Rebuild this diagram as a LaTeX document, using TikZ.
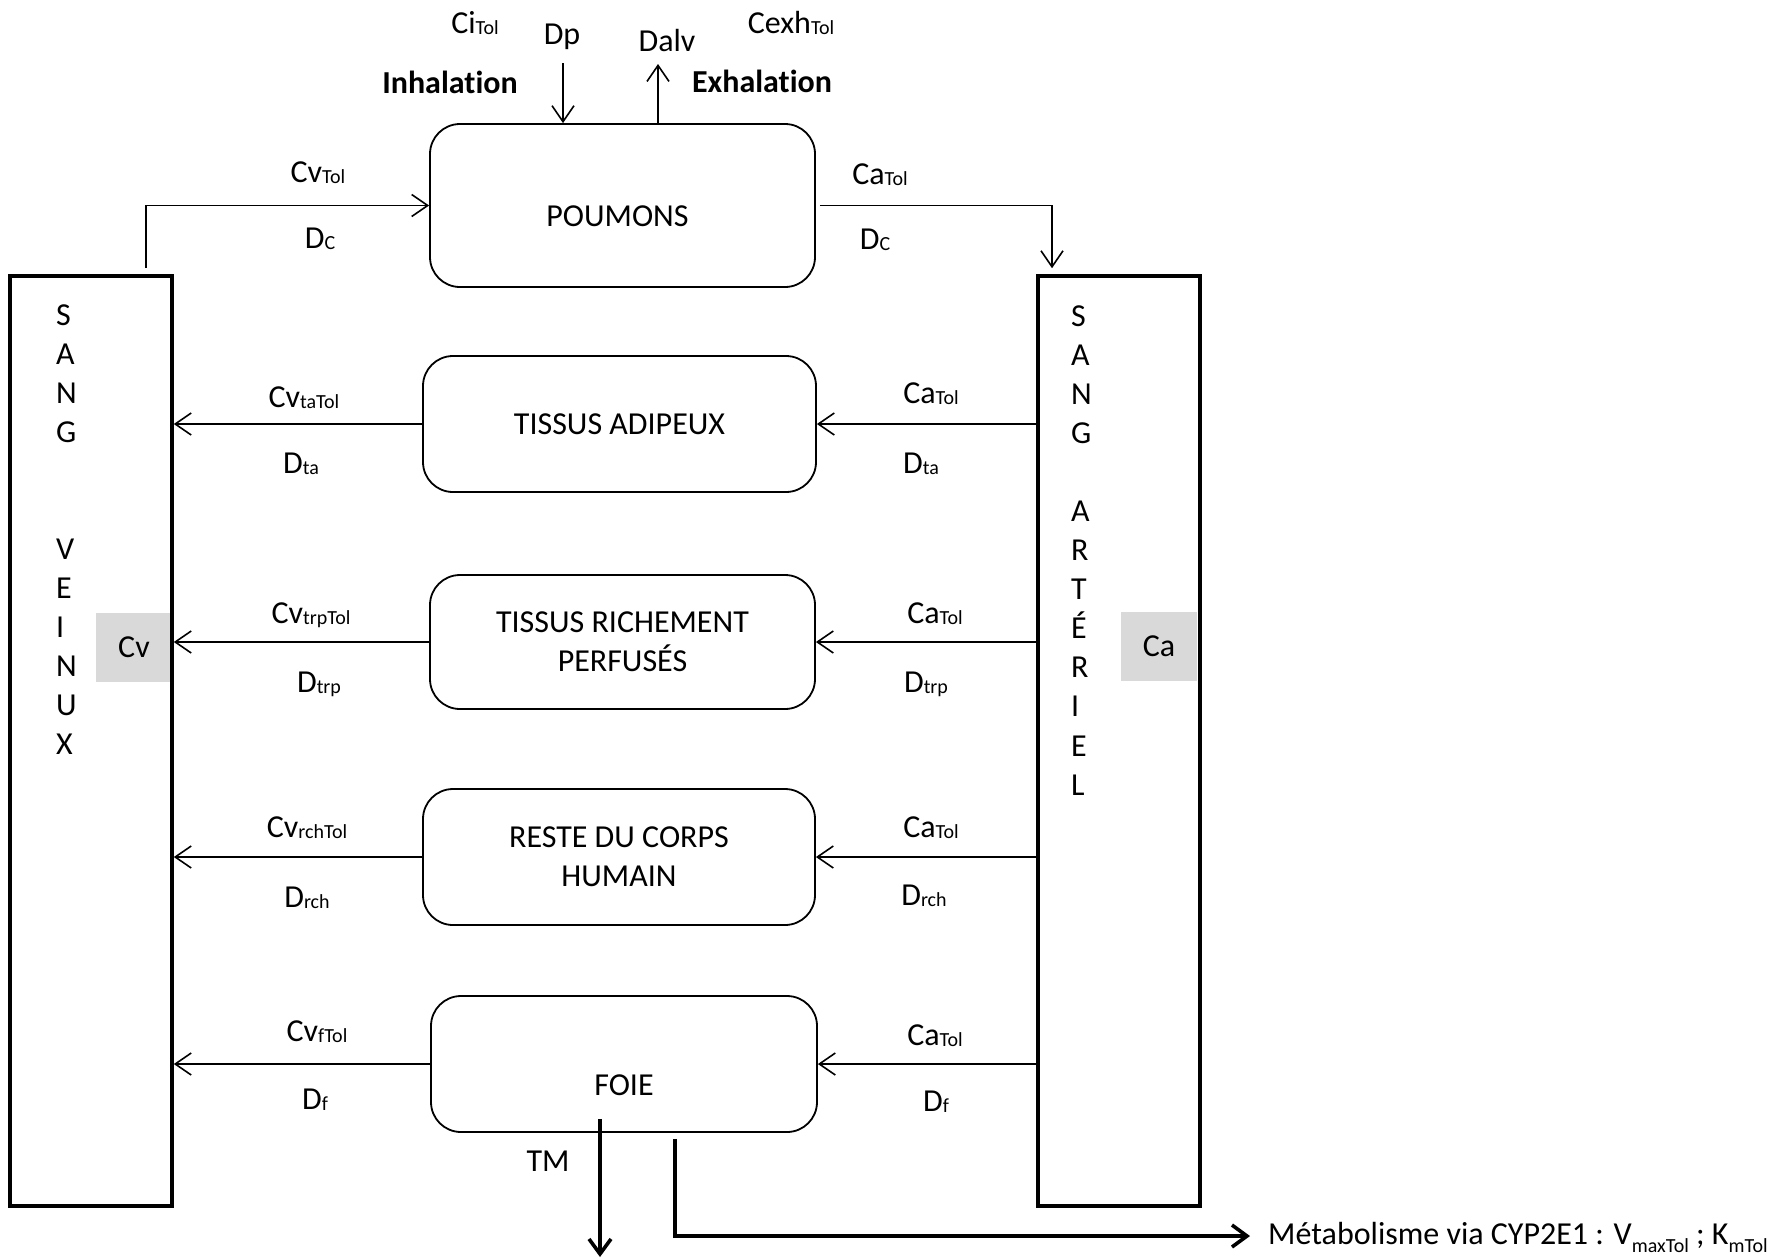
\documentclass[tikz,border=0pt]{standalone}
\usepackage{fontspec}
\setmainfont{Carlito}[Ligatures=NoCommon]
\usetikzlibrary{arrows.meta,calc}
\definecolor{lightgr}{HTML}{D9D9D9}
\newcommand{\sbt}[1]{\raisebox{-1pt}{\fontsize{20}{20}\selectfont #1}}
\newcommand{\sbl}[1]{\raisebox{-8pt}{\fontsize{20}{20}\selectfont #1}}
\begin{document}
\begin{tikzpicture}[x=1pt,y=-1pt,
  every node/.style={font=\fontsize{32}{39}\selectfont, inner sep=0pt},
  organ/.style={draw, line width=1.8pt, rounded corners=30pt, align=center},
  sang/.style={draw, line width=3.6pt, minimum width=162pt, minimum height=930pt},
  conc/.style={fill=lightgr, minimum width=76pt, minimum height=69pt},
  arr/.style={line width=1.6pt, -{Straight Barb[length=16pt,width=22pt]}},
  thickarr/.style={line width=3.6pt, -{Straight Barb[length=15pt,width=22pt]}},
  lbl/.style={anchor=base},
  letter/.style={anchor=base west},
  bold/.style={anchor=base, font=\fontsize{32}{39}\selectfont\bfseries}
]
\useasboundingbox (0,0) rectangle (1782,1259);

% concentration boxes
\node[conc] (cvbox) at (134,647.5) {Cv};
\node[conc] (cabox) at (1159,646.5) {Ca};

% blood compartments
\node[sang] (sv) at (91,741) {};
\node[sang] (sa) at (1119,741) {};
\foreach \l/\yy [count=\i] in {S/315,A/354,N/393,G/432,V/549,E/588,I/627,N/666,U/705,X/744}
  \node[letter] (svl\i) at (56,\yy+10) {\l};
\foreach \l/\yy [count=\i] in {S/316,A/355,N/394,G/433,A/511,R/550,T/589,É/628,R/667,I/706,E/746,L/785}
  \node[letter] (sal\i) at (1071,\yy+10) {\l};

% organs
\node[organ, minimum width=385pt, minimum height=163pt, text height=41pt, text depth=0pt] (poumons) at (622.5,205.5) {\hspace*{-10pt}POUMONS};
\node[organ, minimum width=393pt, minimum height=136pt] (ta) at (619.5,424) {TISSUS ADIPEUX};
\node[organ, minimum width=385pt, minimum height=134pt] (trp) at (622.5,642) {TISSUS RICHEMENT\\PERFUSÉS};
\node[organ, minimum width=392pt, minimum height=136pt] (rch) at (619,857) {RESTE DU CORPS\\HUMAIN};
\node[organ, minimum width=386pt, minimum height=136pt, text height=62pt, text depth=0pt] (foie) at (624,1064) {FOIE};

% lung connections
\draw[arr] ([xshift=55pt,yshift=6pt]sv.north) |- (poumons.west);
\draw[arr] ([xshift=4pt]poumons.east) -| ([xshift=-67pt,yshift=6pt]sa.north);
\coordinate (dpt) at (563,63);
\coordinate (dat) at (658,64);
\draw[arr] (dpt) -- (dpt |- poumons.north);
\draw[arr] (dat |- poumons.north) -- (dat);

% arterial -> organs, organs -> venous
\foreach \o in {ta,trp,rch,foie}{
  \draw[arr] (\o.east -| sa.west) -- (\o.east);
  \draw[arr] (\o.west) -- (\o.west -| sv.east);
}

% liver outputs
\coordinate (tmend) at (600,1257);
\coordinate (metab) at (1250,1236);
\draw[thickarr] ($(tmend |- foie.south)+(0,-14)$) -- (tmend);
\draw[thickarr] ($(foie.south)+(51,6)$) |- (metab);
\node[anchor=base west] (mtext) at (1268,1244) {Métabolisme via CYP2E1 : V\sbl{maxTol} ; K\sbl{mTol}};

% labels
\node[lbl] (ci) at (475,33) {Ci\sbt{Tol}};
\node[lbl] (dp) at (562,44) {Dp};
\node[lbl] (dalv) at (667,51) {Dalv};
\node[lbl] (cexh) at (791,33) {Cexh\sbt{Tol}};
\node[bold] (inh) at (450,93) {Inhalation};
\node[bold] (exh) at (762,92) {Exhalation};
\node[lbl] (tm) at (548,1171) {TM};

\node[lbl] (cvtol) at (318,182) {Cv\sbt{Tol}};
\node[lbl] (dc1) at (320,248) {D\sbt{C}};
\node[lbl] (catol0) at (880,184) {Ca\sbt{Tol}};
\node[lbl] (dc2) at (875,249) {D\sbt{C}};
\node[lbl] (cvta) at (304,407) {Cv\sbt{taTol}};
\node[lbl] (dta1) at (301,473) {D\sbt{ta}};
\node[lbl] (cata) at (931,403) {Ca\sbt{Tol}};
\node[lbl] (dta2) at (921,473) {D\sbt{ta}};
\node[lbl] (cvtrp) at (311,623) {Cv\sbt{trpTol}};
\node[lbl] (dtrp1) at (319,692) {D\sbt{trp}};
\node[lbl] (catrp) at (935,623) {Ca\sbt{Tol}};
\node[lbl] (dtrp2) at (926,692) {D\sbt{trp}};
\node[lbl] (cvrch) at (307,837) {Cv\sbt{rchTol}};
\node[lbl] (drch1) at (307,907) {D\sbt{rch}};
\node[lbl] (carch) at (931,837) {Ca\sbt{Tol}};
\node[lbl] (drch2) at (924,905) {D\sbt{rch}};
\node[lbl] (cvf) at (317,1041) {Cv\sbt{fTol}};
\node[lbl] (df1) at (315,1109) {D\sbt{f}};
\node[lbl] (caf) at (935,1045) {Ca\sbt{Tol}};
\node[lbl] (df2) at (936,1111) {D\sbt{f}};
\end{tikzpicture}
\end{document}
